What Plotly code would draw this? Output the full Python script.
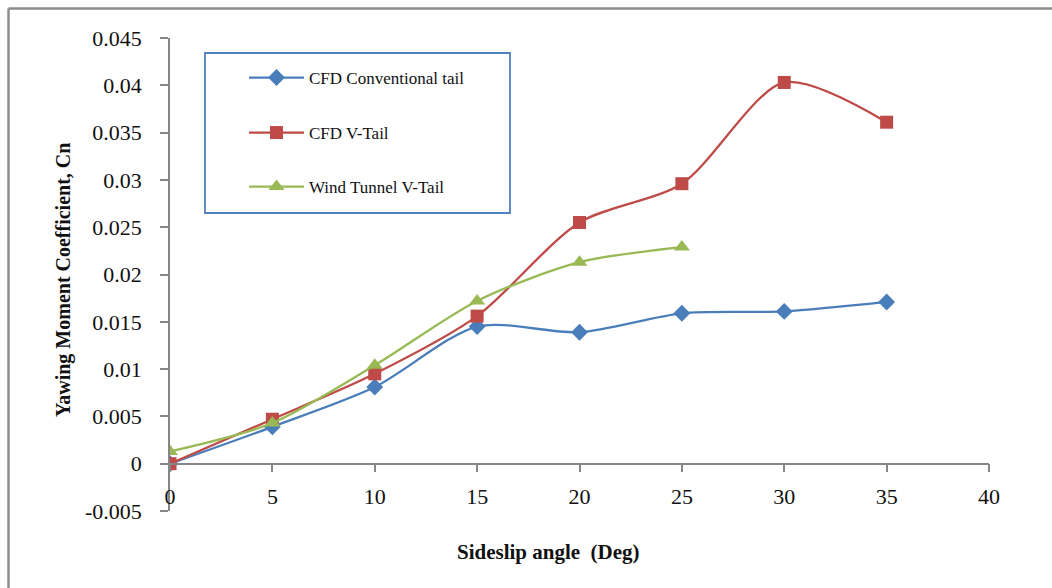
import plotly.graph_objects as go

# Sideslip angle (deg)
beta_cfd = [0, 5, 10, 15, 20, 25, 30, 35]
beta_wt = [0, 5, 10, 15, 20, 25]

# Yawing moment coefficient Cn
cn_conventional = [0.0, 0.0039, 0.0081, 0.0145, 0.0139, 0.0159, 0.0161, 0.0171]
cn_vtail_cfd = [0.0, 0.0047, 0.0095, 0.0156, 0.0255, 0.0296, 0.0403, 0.0361]
cn_vtail_wt = [0.0013, 0.0043, 0.0104, 0.0172, 0.0213, 0.0229]

x_ticks = [0, 5, 10, 15, 20, 25, 30, 35, 40]
y_ticks = [-0.005, 0, 0.005, 0.01, 0.015, 0.02, 0.025, 0.03, 0.035, 0.04, 0.045]
y_tick_text = ["-0.005", "0", "0.005", "0.01", "0.015", "0.02", "0.025",
               "0.03", "0.035", "0.04", "0.045"]

series_names = ["CFD Conventional tail", "CFD V-Tail", "Wind Tunnel V-Tail"]

BLUE = "#4a7ebb"
RED = "#be4b48"
GREEN = "#98b954"
AXIS = "#868686"
FONT = "Liberation Serif, Times New Roman, serif"

W, H = 1052, 588
L, R, T, B = 170, 63, 38, 77
pw, ph = W - L - R, H - T - B


def px(X):
    return (X - L) / pw


def py(Y):
    return (H - B - Y) / ph


fig = go.Figure()

fig.add_trace(go.Scatter(
    x=beta_cfd, y=cn_conventional, name=series_names[0], mode="lines+markers",
    line=dict(color=BLUE, width=2.3, shape="spline", smoothing=0.8),
    marker=dict(symbol="diamond", size=13, color=BLUE),
    legend="legend",
))
fig.add_trace(go.Scatter(
    x=beta_cfd, y=cn_vtail_cfd, name=series_names[1], mode="lines+markers",
    line=dict(color=RED, width=2.3, shape="spline", smoothing=0.8),
    marker=dict(symbol="square", size=13, color=RED),
    legend="legend2",
))
fig.add_trace(go.Scatter(
    x=beta_wt, y=cn_vtail_wt, name=series_names[2], mode="lines+markers",
    line=dict(color=GREEN, width=2.3, shape="spline", smoothing=0.8),
    marker=dict(symbol="triangle-up", size=14, color=GREEN),
    legend="legend3",
))

legend_common = dict(
    xanchor="left", yanchor="middle", bgcolor="rgba(0,0,0,0)",
    font=dict(family=FONT, size=17, color="#111"),
    borderwidth=0, itemwidth=55,
)
legend_x = px(244)

shapes = [
    # outer frame (top and left edges)
    dict(type="line", xref="paper", yref="paper", x0=px(8.5), x1=px(1052),
         y0=py(8.5), y1=py(8.5), line=dict(color="#8c8c8c", width=2.5)),
    dict(type="line", xref="paper", yref="paper", x0=px(8.5), x1=px(8.5),
         y0=py(8.5), y1=py(588), line=dict(color="#8c8c8c", width=2.5)),
    # legend box
    dict(type="rect", xref="paper", yref="paper", x0=px(205), x1=px(510),
         y0=py(213), y1=py(53), line=dict(color="#4f81bd", width=1.8)),
]

fig.update_layout(
    width=W, height=H,
    margin=dict(l=L, r=R, t=T, b=B),
    paper_bgcolor="white", plot_bgcolor="white",
    font=dict(family=FONT, color="#111"),
    showlegend=True,
    legend=dict(x=legend_x, y=py(78), **legend_common),
    legend2=dict(x=legend_x, y=py(133), **legend_common),
    legend3=dict(x=legend_x, y=py(187), **legend_common),
    shapes=shapes,
    xaxis=dict(
        range=[0, 40], tickvals=x_ticks, ticktext=[str(v) for v in x_ticks],
        showgrid=False, zeroline=False, showline=True, linecolor=AXIS, linewidth=1.5,
        ticks="outside", ticklen=8, tickcolor=AXIS, tickwidth=1.5,
        tickfont=dict(family=FONT, size=22, color="#111"),
        anchor="free", position=(0 - y_ticks[0]) / (y_ticks[-1] - y_ticks[0]),
        ticklabelstandoff=5,
    ),
    yaxis=dict(
        range=[y_ticks[0], y_ticks[-1]], tickvals=y_ticks, ticktext=y_tick_text,
        showgrid=False, zeroline=False, showline=True, linecolor=AXIS, linewidth=1.5,
        ticks="outside", ticklen=8, tickcolor=AXIS, tickwidth=1.5,
        tickfont=dict(family=FONT, size=22, color="#111"),
        ticklabelstandoff=14,
    ),
    annotations=[
        dict(text="<b>Sideslip angle  (Deg)</b>", xref="paper", yref="paper",
             x=px(548), y=py(552), showarrow=False, xanchor="center", yanchor="middle",
             font=dict(family=FONT, size=21, color="#111")),
        dict(text="<b>Yawing Moment Coefficient, Cn</b>", xref="paper", yref="paper",
             x=px(63), y=py(280), showarrow=False, textangle=-90,
             xanchor="center", yanchor="middle",
             font=dict(family=FONT, size=20, color="#111")),
    ],
)

fig.write_html("out.html")
